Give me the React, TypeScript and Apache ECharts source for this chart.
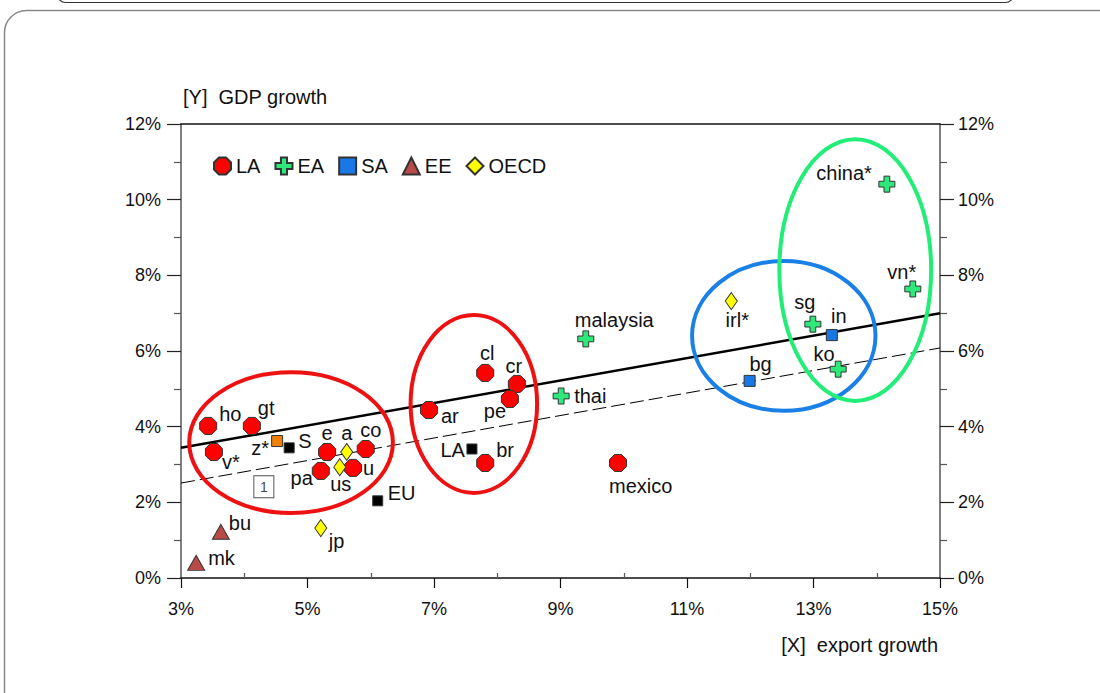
import React, { useEffect, useRef } from "react";
import * as echarts from "echarts";

// ---- axis ticks ----
const xMajorTicks = [3, 5, 7, 9, 11, 13, 15];
const xMinorTicks = [4, 6, 8, 10, 12, 14];

// ---- LA (Latin America) ----
const laNames = ["ho", "gt", "v*", "e", "co", "pa", "u", "ar", "cl", "cr", "pe", "br", "mexico"];
const laX = [3.43, 4.12, 3.52, 5.31, 5.92, 5.21, 5.72, 6.92, 7.81, 8.31, 8.2, 7.81, 9.91];
const laY = [4.02, 4.02, 3.33, 3.33, 3.41, 2.83, 2.91, 4.44, 5.42, 5.13, 4.73, 3.04, 3.04];

// ---- EA (East Asia) ----
const eaNames = ["malaysia", "thai", "china*", "vn*", "sg", "ko"];
const eaX = [9.4, 9.01, 14.16, 14.57, 12.99, 13.39];
const eaY = [6.32, 4.81, 10.41, 7.64, 6.71, 5.52];

// ---- SA (South Asia) ----
const saNames = ["in", "bg"];
const saX = [13.29, 11.99];
const saY = [6.42, 5.21];

// ---- EE (Eastern Europe) ----
const eeNames = ["bu", "mk"];
const eeX = [3.63, 3.24];
const eeY = [1.22, 0.4];

// ---- OECD ----
const oecdNames = ["a", "us", "jp", "irl*"];
const oecdX = [5.62, 5.51, 5.21, 11.7];
const oecdY = [3.33, 2.93, 1.32, 7.32];

// ---- aggregates (black squares) ----
const aggNames = ["S", "LA", "EU"];
const aggX = [4.71, 7.6, 6.11];
const aggY = [3.44, 3.41, 2.04];

// ---- z* (orange square) ----
const zNames = ["z*"];
const zX = [4.52];
const zY = [3.62];

// ---- boxed note "1" ----
const noteText = ["1"];
const noteX = [4.31];
const noteY = [2.41];

// ---- regression lines (x, y at both ends) ----
const fitX = [3, 15];
const fitSolidY = [3.44, 7.0];
const fitDashedY = [2.51, 6.08];

// ---- group ellipses (centre and radii in data units) ----
const ellipseCx = [4.74, 7.63, 12.53, 13.66];
const ellipseCy = [3.58, 4.6, 6.4, 8.14];
const ellipseRx = [1.61, 1.0, 1.45, 1.2];
const ellipseRy = [1.86, 2.35, 1.98, 3.46];
const ellipseColors = ["#ee1111", "#ee1111", "#1a80e6", "#22ee77"];

// label placement (style): [dx, dy, align]
const labelPlace: Record<string, [number, number, string]> = {
  ho: [11, -12, "left"],
  gt: [6, -18, "left"],
  "v*": [8, 10, "left"],
  "z*": [-8, 7, "right"],
  S: [9, -7, "left"],
  e: [0, -19, "center"],
  a: [0, -19, "center"],
  co: [5, -19, "center"],
  pa: [-8, 7, "right"],
  us: [1, 17, "center"],
  u: [10, 0, "left"],
  ar: [12, 6, "left"],
  cl: [2, -20, "center"],
  cr: [-3, -18, "center"],
  pe: [-15, 12, "center"],
  LA: [-7, 1, "right"],
  br: [11, -13, "left"],
  mexico: [-9, 23, "left"],
  malaysia: [-11, -19, "left"],
  thai: [13, 0, "left"],
  "china*": [-15, -11, "right"],
  "vn*": [-11, -17, "center"],
  sg: [-8, -22, "center"],
  in: [7, -19, "center"],
  ko: [-14, -15, "center"],
  bg: [11, -17, "center"],
  "irl*": [6, 19, "center"],
  EU: [10, -8, "left"],
  bu: [8, -9, "left"],
  mk: [12, -5, "left"],
  jp: [8, 13, "left"],
};

const FONT = "Liberation Sans, Arial, Helvetica, sans-serif";
const OCTAGON = "path://M-0.41,-1 L0.41,-1 L1,-0.41 L1,0.41 L0.41,1 L-0.41,1 L-1,0.41 L-1,-0.41 Z";
const CROSS =
  "path://M-0.36,-1 L0.36,-1 L0.36,-0.36 L1,-0.36 L1,0.36 L0.36,0.36 L0.36,1 L-0.36,1 L-0.36,0.36 L-1,0.36 L-1,-0.36 L-0.36,-0.36 Z";

function points(names: string[], xs: number[], ys: number[]) {
  return names.map((n, i) => {
    const p = labelPlace[n] || [10, 0, "left"];
    return {
      name: n,
      value: [xs[i], ys[i]],
      label: { offset: [p[0], p[1]], align: p[2] },
    };
  });
}

const baseLabel = {
  show: true,
  position: "inside",
  formatter: "{b}",
  fontSize: 20,
  fontFamily: FONT,
  color: "#111",
  verticalAlign: "middle",
};

function scatter(name: string, data: any[], symbol: string, size: any, color: string, z = 5) {
  return {
    name,
    type: "scatter",
    data,
    symbol,
    symbolSize: size,
    z,
    silent: true,
    itemStyle: { color, borderColor: "#333", borderWidth: 1, opacity: 1 },
    label: baseLabel,
    emphasis: { disabled: true },
  };
}

export default function App() {
  const ref = useRef<HTMLDivElement>(null);
  useEffect(() => {
    document.body.style.margin = "0";
    const chart = echarts.init(ref.current!, null, { renderer: "svg" });
    const vAxisColor = "#555";
    const yAxisCommon = {
      type: "value",
      min: 0,
      max: 12,
      interval: 2,
      axisLine: { show: true, lineStyle: { color: vAxisColor, width: 1.5 } },
      axisTick: { show: true, inside: false, length: 14, lineStyle: { color: "#222", width: 1.2 } },
      minorTick: { show: true, splitNumber: 2, length: 7, lineStyle: { color: vAxisColor, width: 1.2 } },
      splitLine: { show: false },
      minorSplitLine: { show: false },
      axisLabel: { formatter: (v: number) => v + "%", fontSize: 18, fontFamily: FONT, color: "#111" },
    };
    const ellipseData = ellipseCx.map((c, i) => [c, ellipseCy[i], ellipseRx[i], ellipseRy[i]]);

    chart.setOption({
      animation: false,
      backgroundColor: "#fff",
      grid: { left: 181, right: 160, top: 124, bottom: 115, containLabel: false },
      legend: {
        data: ["LA", "EA", "SA", "EE", "OECD"],
        left: 213,
        top: 156,
        itemWidth: 17,
        itemHeight: 17,
        itemGap: 14,
        padding: 0,
        selectedMode: false,
        textStyle: { fontSize: 20, fontFamily: FONT, color: "#111" },
      },
      xAxis: [
        {
          type: "value",
          min: 3,
          max: 15,
          interval: 1,
          position: "bottom",
          axisLine: { show: true, onZero: false, lineStyle: { color: "#111", width: 1.5 } },
          axisTick: { show: true, customValues: xMajorTicks, inside: false, length: 10, lineStyle: { color: "#111", width: 1.2 } },
          axisLabel: {
            customValues: xMajorTicks,
            formatter: (v: number) => v + "%",
            fontSize: 18,
            fontFamily: FONT,
            color: "#111",
            margin: 22,
          },
          splitLine: { show: false },
        },
        {
          type: "value",
          min: 3,
          max: 15,
          interval: 1,
          position: "bottom",
          axisLine: { show: false, onZero: false },
          axisTick: { show: true, customValues: xMinorTicks, inside: true, length: 5, lineStyle: { color: vAxisColor, width: 1.2 } },
          axisLabel: { show: false },
          splitLine: { show: false },
        },
        {
          type: "value",
          min: 3,
          max: 15,
          position: "top",
          axisLine: { show: true, onZero: false, lineStyle: { color: "#111", width: 1.5 } },
          axisTick: { show: false },
          axisLabel: { show: false },
          splitLine: { show: false },
        },
      ],
      yAxis: [
        { ...yAxisCommon, position: "left", axisLabel: { ...yAxisCommon.axisLabel, margin: 20 } },
        { ...yAxisCommon, position: "right", axisLabel: { ...yAxisCommon.axisLabel, margin: 18 } },
      ],
      graphic: [
        {
          type: "rect",
          silent: true,
          z: -10,
          shape: { x: 4.5, y: 10.5, width: 1300, height: 900, r: 22 },
          style: { fill: "none", stroke: "#888", lineWidth: 1.5 },
        },
        {
          type: "rect",
          silent: true,
          shape: { x: 57.5, y: -40, width: 956, height: 42.5, r: 8 },
          style: { fill: "none", stroke: "#333", lineWidth: 1.2 },
        },
        {
          type: "text",
          left: 183,
          top: 87,
          silent: true,
          style: { text: "[Y]  GDP growth", fontSize: 20, fontFamily: FONT, fill: "#111" },
        },
        {
          type: "text",
          right: 162,
          top: 635,
          silent: true,
          style: { text: "[X]  export growth", fontSize: 20, fontFamily: FONT, fill: "#111" },
        },
      ],
      series: [
        {
          name: "fit",
          type: "line",
          data: fitX.map((x, i) => [x, fitSolidY[i]]),
          symbol: "none",
          z: 2,
          silent: true,
          lineStyle: { color: "#000", width: 2.5 },
        },
        {
          name: "fit2",
          type: "line",
          data: fitX.map((x, i) => [x, fitDashedY[i]]),
          symbol: "none",
          z: 2,
          silent: true,
          lineStyle: { color: "#000", width: 1, type: [14, 5] },
        },
        {
          name: "groups",
          type: "custom",
          z: 3,
          silent: true,
          clip: false,
          data: ellipseData,
          encode: { x: 0, y: 1 },
          renderItem: (params: any, api: any) => {
            const c = api.coord([api.value(0), api.value(1)]);
            const s = api.size([api.value(2), api.value(3)]);
            return {
              type: "ellipse",
              shape: { cx: c[0], cy: c[1], rx: s[0], ry: s[1] },
              style: { fill: "none", stroke: ellipseColors[params.dataIndex], lineWidth: 4 },
            };
          },
        },
        scatter("LA", points(laNames, laX, laY), OCTAGON, 17, "#ff0000"),
        scatter("EA", points(eaNames, eaX, eaY), CROSS, 16, "#2ee87a"),
        scatter("SA", points(saNames, saX, saY), "rect", 11, "#1a78e6"),
        scatter("EE", points(eeNames, eeX, eeY), "triangle", [17, 15], "#b84a48"),
        scatter("OECD", points(oecdNames, oecdX, oecdY), "diamond", [12, 17], "#ffff00"),
        scatter("aggregates", points(aggNames, aggX, aggY), "rect", 10, "#000"),
        scatter("zstar", points(zNames, zX, zY), "rect", 11, "#f07f0a"),
        {
          name: "note",
          type: "scatter",
          data: noteText.map((t, i) => ({ name: t, value: [noteX[i], noteY[i]] })),
          symbol: "rect",
          symbolSize: [20, 22],
          z: 5,
          silent: true,
          itemStyle: { color: "#fff", borderColor: "#222", borderWidth: 1 },
          label: { show: true, position: "inside", formatter: "{b}", fontSize: 14, fontFamily: FONT, color: "#111" },
        },
      ],
    });
    return () => chart.dispose();
  }, []);
  return <div ref={ref} style={{ width: 1100, height: 693 }} />;
}
